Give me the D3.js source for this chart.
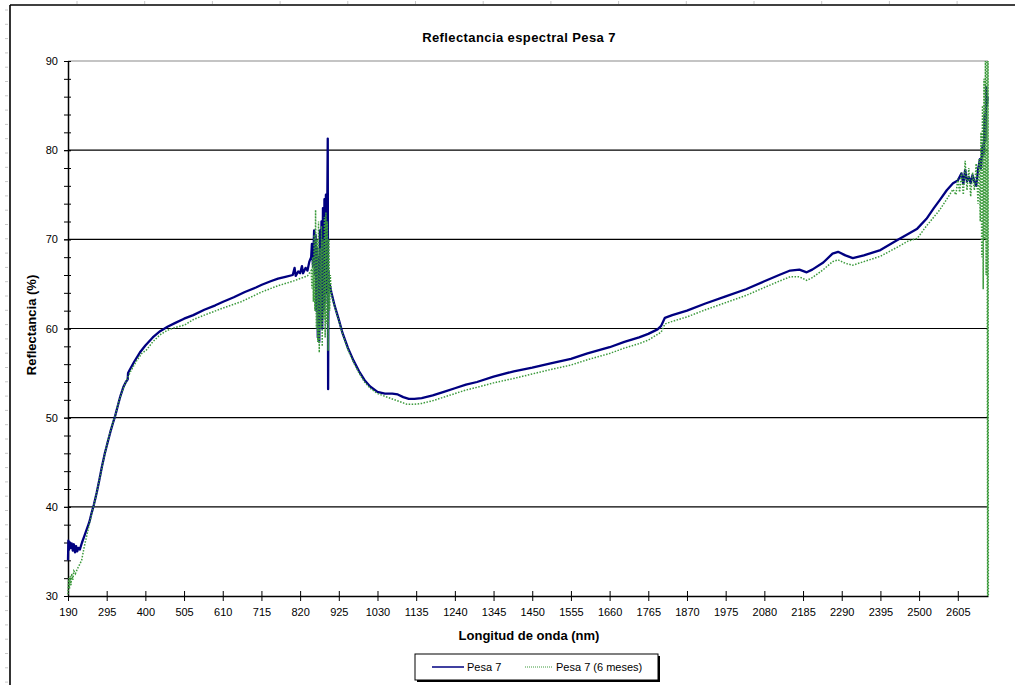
<!DOCTYPE html>
<html>
<head>
<meta charset="utf-8">
<script src="https://cdn.jsdelivr.net/npm/d3@7"></script>
<style>
  body { margin: 0; background: #fff; }
  svg text { font-family: "Liberation Sans", Arial, sans-serif; }
</style>
</head>
<body>
<div id="chart"></div>
<script>
// tick labels on the category axis (every 105 nm)
const nmTicks = [190, 295, 400, 505, 610, 715, 820, 925, 1030, 1135, 1240, 1345, 1450,
  1555, 1660, 1765, 1870, 1975, 2080, 2185, 2290, 2395, 2500, 2605];
const yTicks = [30, 40, 50, 60, 70, 80, 90];
const seriesNames = ["Pesa 7", "Pesa 7 (6 meses)"];

// Pesa 7 : wavelength (nm) and reflectance (%)
const pesa7Nm = [190, 191, 193, 195, 198, 200, 203, 206, 209, 212, 215, 218, 222, 228, 235, 242, 248, 254,
  260, 268, 275, 282, 290, 298, 305, 312, 318, 325, 332, 340, 347, 352, 353, 358, 370, 385, 400, 420,
  440, 460, 480, 505, 530, 560, 590, 611, 640, 670, 700, 716, 740, 760, 780, 800, 805, 808, 815, 820,
  825, 828, 835, 840, 845, 850, 852, 855, 858, 860, 862, 864, 866, 868, 870, 872, 874, 876, 878, 880,
  882, 884, 886, 888, 890, 892, 895, 896, 897, 898, 900, 905, 914, 925, 935, 950, 965, 980, 995, 1010,
  1030, 1050, 1070, 1085, 1100, 1115, 1130, 1150, 1180, 1210, 1240, 1270, 1300, 1345, 1400, 1450, 1500,
  1555, 1600, 1660, 1700, 1740, 1765, 1790, 1800, 1810, 1830, 1870, 1920, 1975, 2030, 2080, 2120, 2150,
  2175, 2195, 2210, 2240, 2265, 2280, 2300, 2320, 2350, 2395, 2440, 2470, 2495, 2520, 2540, 2556, 2575,
  2592, 2605, 2615, 2620, 2625, 2630, 2635, 2640, 2645, 2650, 2655, 2660, 2665, 2668, 2672, 2675, 2678,
  2680, 2682, 2684, 2686];
const pesa7Val = [34.0, 36.2, 35.2, 36.0, 35.4, 35.9, 35.1, 35.8, 34.9, 35.6, 35.0, 35.4, 35.2, 36.0, 36.8,
  37.6, 38.3, 39.3, 40.2, 41.6, 43.0, 44.5, 46.0, 47.3, 48.4, 49.4, 50.2, 51.3, 52.4, 53.4, 54.0, 54.3,
  55.0, 55.4, 56.3, 57.3, 58.1, 59.0, 59.7, 60.2, 60.6, 61.1, 61.5, 62.1, 62.6, 63.0, 63.5, 64.1, 64.6,
  64.9, 65.3, 65.6, 65.8, 66.0, 66.8, 65.9, 66.4, 66.2, 67.0, 66.2, 66.8, 66.5, 67.5, 68.0, 69.5, 67.0,
  71.0, 66.0, 70.5, 62.0, 69.0, 59.0, 68.0, 58.5, 71.0, 61.0, 72.0, 60.0, 73.5, 62.0, 74.5, 63.0, 75.0,
  64.0, 81.3, 53.2, 66.5, 65.0, 65.0, 64.0, 62.5, 61.0, 59.5, 57.8, 56.4, 55.2, 54.2, 53.5, 52.9, 52.7,
  52.7, 52.6, 52.3, 52.1, 52.1, 52.2, 52.5, 52.9, 53.3, 53.7, 54.0, 54.6, 55.2, 55.6, 56.1, 56.6, 57.2,
  57.9, 58.5, 59.0, 59.4, 59.9, 60.3, 61.2, 61.5, 62.0, 62.8, 63.6, 64.4, 65.3, 66.0, 66.5, 66.6, 66.3,
  66.6, 67.4, 68.4, 68.6, 68.2, 67.9, 68.2, 68.8, 69.9, 70.6, 71.2, 72.3, 73.5, 74.4, 75.5, 76.3, 76.6,
  77.4, 76.2, 77.8, 76.5, 77.0, 76.3, 77.2, 76.5, 76.0, 77.8, 79.0, 78.0, 80.5, 79.5, 84.0, 81.0, 87.1,
  85.0, 86.0];

// Pesa 7 (6 meses)
const pesa6Nm = [190, 192, 194, 196, 198, 200, 203, 206, 210, 215, 220, 227, 233, 240, 247, 254, 262, 270,
  278, 286, 294, 302, 310, 318, 326, 334, 342, 350, 360, 375, 390, 403, 420, 440, 460, 480, 507, 530,
  560, 611, 660, 716, 760, 800, 820, 840, 850, 852, 854, 856, 858, 860, 862, 864, 866, 868, 870, 872,
  874, 876, 878, 880, 882, 884, 886, 888, 890, 892, 894, 896, 898, 900, 902, 905, 914, 925, 935, 950,
  965, 980, 995, 1010, 1030, 1050, 1070, 1090, 1110, 1130, 1150, 1180, 1210, 1240, 1270, 1300, 1345,
  1400, 1450, 1500, 1555, 1600, 1660, 1700, 1740, 1765, 1800, 1810, 1830, 1870, 1920, 1975, 2030, 2080,
  2120, 2150, 2175, 2195, 2210, 2240, 2265, 2280, 2300, 2320, 2350, 2395, 2440, 2470, 2495, 2520, 2540,
  2556, 2575, 2592, 2600, 2605, 2610, 2615, 2620, 2625, 2630, 2635, 2640, 2645, 2650, 2655, 2660, 2663,
  2666, 2668, 2670, 2672, 2674, 2676, 2678, 2680, 2682, 2684, 2686, 2687, 2688];
const pesa6Val = [30.2, 32.0, 30.8, 32.2, 31.2, 32.5, 31.8, 32.8, 32.5, 33.0, 33.4, 34.0, 35.3, 36.6, 37.9,
  39.2, 40.5, 42.0, 43.6, 45.2, 46.7, 48.0, 49.2, 50.2, 51.5, 52.6, 53.5, 54.3, 55.2, 56.3, 57.2, 57.6,
  58.5, 59.3, 59.8, 60.1, 60.4, 61.0, 61.5, 62.3, 63.0, 64.1, 64.8, 65.3, 65.6, 65.9, 66.5, 64.5, 68.0,
  63.0, 70.5, 62.0, 73.3, 60.0, 70.0, 58.5, 72.0, 57.3, 69.0, 60.0, 71.5, 58.0, 70.0, 61.0, 72.5, 59.0,
  73.0, 60.5, 72.0, 57.5, 70.0, 62.0, 66.0, 63.8, 62.4, 60.9, 59.4, 57.6, 56.2, 55.0, 54.0, 53.3, 52.7,
  52.4, 52.1, 51.8, 51.5, 51.5, 51.6, 51.9, 52.3, 52.7, 53.1, 53.4, 53.9, 54.4, 54.9, 55.4, 55.9, 56.5,
  57.2, 57.8, 58.3, 58.7, 59.6, 60.5, 60.8, 61.3, 62.1, 62.9, 63.7, 64.6, 65.3, 65.8, 65.8, 65.4, 65.7,
  66.6, 67.5, 67.7, 67.3, 67.1, 67.5, 68.1, 69.1, 69.8, 70.1, 71.5, 72.5, 73.3, 74.5, 75.6, 75.0, 76.8,
  75.3, 77.5, 75.0, 78.8, 75.5, 78.0, 74.8, 77.5, 75.5, 78.5, 74.0, 79.0, 72.0, 82.0, 68.0, 85.0, 64.4,
  88.0, 70.0, 90.0, 66.0, 90.0, 30.0, 90.0, 30.0];

const W = 1015, H = 685;
const plot = { left: 68, right: 988, top: 61, bottom: 596 };

const svg = d3.select("#chart").append("svg")
  .attr("width", W).attr("height", H);

svg.append("rect").attr("width", W).attr("height", H).attr("fill", "#fff");

// faint ruler marks + frame of the chart area
const frame = svg.append("g");
frame.selectAll(".rt").data(d3.range(77, W, 67.7)).enter().append("line")
  .attr("x1", d => d).attr("x2", d => d).attr("y1", 1).attr("y2", 4)
  .attr("stroke", "#c8c8c8");
frame.selectAll(".rl").data(d3.range(10, H, 14.3)).enter().append("line")
  .attr("x1", 5).attr("x2", 8).attr("y1", d => d).attr("y2", d => d)
  .attr("stroke", "#c8c8c8");
frame.append("line").attr("x1", 10).attr("x2", 10).attr("y1", 5).attr("y2", H)
  .attr("stroke", "#000").attr("stroke-width", 1.6);
frame.append("line").attr("x1", 10).attr("x2", W).attr("y1", 5).attr("y2", 5)
  .attr("stroke", "#000").attr("stroke-width", 1.6);

const x = d3.scaleLinear().domain([190, 2687]).range([plot.left, plot.right]);
const y = d3.scaleLinear().domain([30, 90]).range([plot.bottom, plot.top]);

// gridlines
svg.append("g").selectAll("line")
  .data(yTicks.filter(d => d > 30))
  .enter().append("line")
  .attr("x1", plot.left).attr("x2", plot.right)
  .attr("y1", d => y(d)).attr("y2", d => y(d))
  .attr("stroke", d => d === 90 ? "#8a8a8a" : "#000")
  .attr("stroke-width", 1.2);

// y axis: minor ticks every 2
const yMinor = svg.append("g").attr("transform", `translate(${plot.left},0)`)
  .call(d3.axisLeft(y).tickValues(d3.range(30, 91, 2)).tickFormat("").tickSize(4).tickSizeOuter(0));
yMinor.select(".domain").remove();
yMinor.selectAll(".tick line").attr("x1", 3).attr("x2", -4).attr("stroke", "#000");

const yAxis = svg.append("g").attr("transform", `translate(${plot.left},0)`)
  .call(d3.axisLeft(y).tickValues(yTicks).tickSize(4).tickSizeOuter(0).tickPadding(6));
yAxis.select(".domain").attr("stroke", "#000").attr("stroke-width", 1.5);
yAxis.selectAll(".tick line").attr("x1", 3).attr("x2", -4);
yAxis.selectAll("text").style("font-size", "11px").attr("fill", "#000");

// x axis
const xAxis = svg.append("g").attr("transform", `translate(0,${plot.bottom})`)
  .call(d3.axisBottom(x).tickValues(nmTicks).tickFormat(d3.format("d")).tickSize(5).tickSizeOuter(0).tickPadding(7));
xAxis.select(".domain").attr("stroke", "#000").attr("stroke-width", 1.5);
xAxis.selectAll(".tick line").attr("y1", -5).attr("y2", 5);
xAxis.selectAll("text").style("font-size", "11px").attr("fill", "#000");

// series
const line = d3.line().x(d => x(d[0])).y(d => y(Math.min(90, d[1])));
const pts7 = pesa7Nm.map((n, i) => [n, pesa7Val[i]]);
const pts6 = pesa6Nm.map((n, i) => [n, pesa6Val[i]]);

svg.append("path").datum(pts7)
  .attr("d", line).attr("fill", "none")
  .attr("stroke", "#000080").attr("stroke-width", 2.3).attr("stroke-linejoin", "round");

svg.append("path").datum(pts6)
  .attr("d", line).attr("fill", "none")
  .attr("stroke", "#3c9a3c").attr("stroke-width", 1.5).attr("stroke-dasharray", "1.5,1.5");

// titles
svg.append("text").attr("x", 519).attr("y", 42).attr("text-anchor", "middle")
  .style("font-size", "13px").style("font-weight", "bold").style("letter-spacing", "0.4px")
  .text("Reflectancia espectral Pesa 7");

svg.append("text").attr("x", 529).attr("y", 640).attr("text-anchor", "middle")
  .style("font-size", "13px").style("font-weight", "bold")
  .text("Longitud de onda (nm)");

svg.append("text").attr("transform", "translate(36,325) rotate(-90)")
  .attr("text-anchor", "middle")
  .style("font-size", "13px").style("font-weight", "bold")
  .text("Reflectancia (%)");

// legend
const lg = svg.append("g").attr("transform", "translate(415,654)");
lg.append("rect").attr("x", 2).attr("y", 2).attr("width", 243).attr("height", 26).attr("fill", "#000");
lg.append("rect").attr("width", 243).attr("height", 26).attr("fill", "#fff")
  .attr("stroke", "#000").attr("stroke-width", 1);
lg.append("line").attr("x1", 17).attr("x2", 49).attr("y1", 13).attr("y2", 13)
  .attr("stroke", "#000080").attr("stroke-width", 1.5);
lg.append("text").attr("x", 52).attr("y", 17).style("font-size", "11px").text(seriesNames[0]);
lg.append("line").attr("x1", 110).attr("x2", 138).attr("y1", 13).attr("y2", 13)
  .attr("stroke", "#3c9a3c").attr("stroke-width", 1).attr("stroke-dasharray", "1,1");
lg.append("text").attr("x", 141).attr("y", 17).style("font-size", "11px").text(seriesNames[1]);
</script>
</body>
</html>
